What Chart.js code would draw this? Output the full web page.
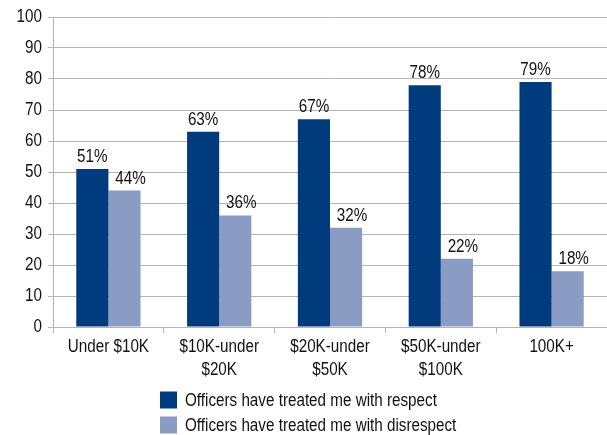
<!DOCTYPE html>
<html>
<head>
<meta charset="utf-8">
<script src="https://cdn.jsdelivr.net/npm/chart.js@4/dist/chart.umd.min.js"></script>
<style>
  html, body { margin: 0; padding: 0; background: #fff; }
</style>
</head>
<body>
<canvas id="chart" width="607" height="435"></canvas>
<script>
// Income brackets and share of respondents (%)
const categories = [['Under $10K'], ['$10K-under', '$20K'], ['$20K-under', '$50K'], ['$50K-under', '$100K'], ['100K+']];
const respect = [51, 63, 67, 78, 79];
const disrespect = [44, 36, 32, 22, 18];
const seriesNames = ['Officers have treated me with respect', 'Officers have treated me with disrespect'];
const seriesColors = ['#003c7d', '#8a9cc4'];
const yTicks = [0, 10, 20, 30, 40, 50, 60, 70, 80, 90, 100];

const FONT = "17.5px 'Liberation Sans', Arial, sans-serif";
const SQUEEZE = 0.87;   // narrow, Helvetica-Narrow-like text
const INK = '#111';
const GRID = '#b4b4b4';

function narrowText(ctx, text, x, y, align, baseline) {
  ctx.save();
  ctx.translate(x, y);
  ctx.scale(SQUEEZE, 1);
  ctx.textAlign = align;
  ctx.textBaseline = baseline;
  ctx.fillText(text, 0, 0);
  ctx.restore();
}

// axis labels, value labels and legend, all in narrow type
const narrowLabels = {
  id: 'narrowLabels',
  afterDraw(chart) {
    const ctx = chart.ctx;
    const xs = chart.scales.x, ys = chart.scales.y;
    ctx.save();
    ctx.font = FONT;
    ctx.fillStyle = INK;

    yTicks.forEach(v => narrowText(ctx, String(v), 42, ys.getPixelForValue(v), 'right', 'middle'));

    categories.forEach((lines, i) => {
      const cx = xs.getPixelForValue(i);
      lines.forEach((ln, k) => narrowText(ctx, ln, cx, xs.top + 20 + k * 23, 'center', 'middle'));
    });

    chart.data.datasets.forEach((ds, i) => {
      const dx = i === 1 ? 6 : 0;
      chart.getDatasetMeta(i).data.forEach((bar, j) => {
        narrowText(ctx, ds.data[j] + '%', bar.x + dx, bar.y - 7, 'center', 'alphabetic');
      });
    });

    seriesNames.forEach((name, i) => {
      const cy = 400 + i * 25;
      ctx.fillStyle = seriesColors[i];
      ctx.fillRect(160, cy - 8.5, 17, 17);
      ctx.fillStyle = INK;
      narrowText(ctx, name, 185, cy + 1, 'left', 'middle');
    });
    ctx.restore();
  }
};

const chart = new Chart(document.getElementById('chart'), {
  type: 'bar',
  data: {
    labels: categories,
    datasets: [
      { label: seriesNames[0], data: respect, backgroundColor: seriesColors[0] },
      { label: seriesNames[1], data: disrespect, backgroundColor: seriesColors[1] }
    ]
  },
  options: {
    responsive: false,
    animation: false,
    layout: { padding: { top: 17, right: 0, bottom: 0, left: 0 } },
    datasets: { bar: { categoryPercentage: 0.58, barPercentage: 1.0 } },
    plugins: { legend: { display: false }, tooltip: { enabled: false } },
    scales: {
      x: {
        afterFit: s => { s.height = 108; },
        grid: { drawOnChartArea: false, drawTicks: true, tickLength: 6, color: GRID, offset: true },
        border: { color: GRID },
        ticks: { display: false }
      },
      y: {
        min: 0, max: 100,
        afterFit: s => { s.width = 53; },
        afterBuildTicks: s => { s.ticks = yTicks.map(v => ({ value: v })); },
        grid: { color: GRID, tickLength: 5 },
        border: { color: GRID },
        ticks: { display: false }
      }
    }
  },
  plugins: [narrowLabels]
});
</script>
</body>
</html>
